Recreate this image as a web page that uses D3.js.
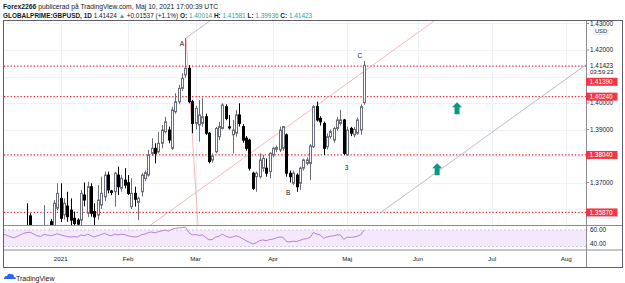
<!DOCTYPE html>
<html><head><meta charset="utf-8">
<script src="https://cdn.jsdelivr.net/npm/d3@7/dist/d3.min.js"></script>
<style>body{margin:0;background:#fff}svg{display:block;font-family:"Liberation Sans",Arial,sans-serif}</style>
</head><body><svg id="c" width="625" height="283"></svg>
<script>
// ---- data (bar index 0 = 2021-01-04, daily weekday bars) ----
const firstIndex = -17;
const opens  = [1.3280,1.3300,1.3350,1.3330,1.3380,1.3440,1.3500,1.3535,1.3574,1.3480,1.3500,1.3480,1.3510,1.3530,1.3552,1.3530,1.3603,
 1.3640,1.3578,1.3611,1.3596,1.3565,1.3558,1.3558,1.3653,1.3584,1.3684,1.3590,1.3577,1.3615,1.3646,1.3728,1.3668,1.3665,1.3728,1.3678,1.3709,
 1.3699,1.3609,1.3659,1.3625,1.3665,1.3715,1.3728,1.3810,1.3829,1.3816,1.3848,1.3892,1.3898,1.3829,1.3967,1.4005,1.4055,1.4106,1.4131,1.4005,
 1.3923,1.3917,1.3923,1.3948,1.3886,1.3785,1.3816,1.3873,1.3904,1.3986,1.3910,1.3880,1.3886,1.3955,1.3911,1.3867,1.3860,1.3735,1.3722,1.3722,
 1.3754,1.3754,1.3741,1.3804,1.3825,1.3823,1.3829,1.3880,1.3735,1.3697,1.3728,1.3697,1.3754,1.3772,1.3772,1.3835,1.3986,1.3942,1.3923,1.3835,
 1.3873,1.3860,1.3904,1.3923,1.3936,1.3804,1.3904,1.3880,1.3886,1.3898,1.40014];
const highs  = [1.3330,1.3380,1.3420,1.3400,1.3460,1.3510,1.3535,1.3622,1.3584,1.3530,1.3535,1.3520,1.3615,1.3540,1.3562,1.3634,1.3697,
 1.3697,1.3640,1.3665,1.3640,1.3590,1.3565,1.3672,1.3700,1.3703,1.3697,1.3622,1.3690,1.3722,1.3741,1.3741,1.3672,1.3740,1.3760,1.3728,1.3754,
 1.3728,1.3716,1.3684,1.3647,1.3735,1.3745,1.3823,1.3867,1.3848,1.3892,1.3917,1.3948,1.3911,1.3986,1.4037,1.4068,1.4112,1.4245,1.4143,1.4012,
 1.3990,1.4011,1.4018,1.3960,1.3890,1.3810,1.3910,1.3929,1.3999,1.3995,1.3955,1.3936,1.3974,1.3999,1.3920,1.3875,1.3865,1.3741,1.3741,1.3810,
 1.3804,1.3791,1.3815,1.3835,1.3840,1.3911,1.3913,1.3885,1.3745,1.3745,1.3735,1.3760,1.3790,1.3795,1.3845,1.3992,1.4005,1.3950,1.3930,1.3885,
 1.3900,1.3910,1.3948,1.3974,1.3940,1.3911,1.3910,1.3910,1.3945,1.3995,1.41581];
const lows   = [1.3230,1.3260,1.3300,1.3250,1.3340,1.3420,1.3460,1.3450,1.3440,1.3420,1.3440,1.3450,1.3480,1.3490,1.3500,1.3520,1.3595,
 1.3551,1.3560,1.3552,1.3530,1.3500,1.3450,1.3540,1.3610,1.3570,1.3571,1.3540,1.3560,1.3600,1.3630,1.3659,1.3652,1.3609,1.3653,1.3665,1.3678,
 1.3653,1.3600,1.3609,1.3558,1.3647,1.3705,1.3722,1.3800,1.3772,1.3810,1.3829,1.3885,1.3848,1.3823,1.3960,1.3995,1.4045,1.4095,1.3999,1.3886,
 1.3900,1.3854,1.3911,1.3880,1.3772,1.3775,1.3810,1.3860,1.3900,1.3935,1.3900,1.3810,1.3873,1.3911,1.3850,1.3820,1.3745,1.3672,1.3665,1.3715,
 1.3741,1.3722,1.3716,1.3795,1.3815,1.3815,1.3820,1.3722,1.3700,1.3690,1.3665,1.3672,1.3745,1.3765,1.3709,1.3830,1.3930,1.3915,1.3804,1.3825,
 1.3865,1.3850,1.3895,1.3915,1.3804,1.3800,1.3875,1.3870,1.3880,1.3880,1.39936];
const closes = [1.3300,1.3350,1.3330,1.3380,1.3440,1.3500,1.3520,1.3500,1.3480,1.3500,1.3480,1.3510,1.3530,1.3520,1.3530,1.3622,1.3659,
 1.3565,1.3622,1.3571,1.3558,1.3545,1.3543,1.3659,1.3634,1.3684,1.3584,1.3570,1.3634,1.3659,1.3728,1.3672,1.3663,1.3735,1.3684,1.3716,1.3690,
 1.3659,1.3659,1.3637,1.3640,1.3728,1.3737,1.3804,1.3829,1.3810,1.3848,1.3898,1.3929,1.3860,1.3974,1.4005,1.4055,1.4093,1.4131,1.4005,1.3923,
 1.3980,1.3955,1.3948,1.3886,1.3779,1.3800,1.3904,1.3911,1.3992,1.3942,1.3906,1.3898,1.3955,1.3923,1.3860,1.3829,1.3754,1.3678,1.3735,1.3785,
 1.3791,1.3735,1.3810,1.3829,1.3832,1.3898,1.3911,1.3735,1.3722,1.3735,1.3684,1.3754,1.3785,1.3785,1.3838,1.3986,1.3936,1.3929,1.3829,1.3873,
 1.3892,1.3904,1.3936,1.3936,1.3810,1.3898,1.3886,1.3900,1.3936,1.3986,1.41423];
const rsiValues = [55,53.5,52,50.5,52,54,56,57,57.2,55,53,52,54.5,54,53,54,55.5,
 54,53,52,51.5,52,51.5,54,53,55,53,51.5,53,54.5,56,54,53,55,54,55,54.5,
 53,52,51.5,52,54.5,55,57,57.5,56.5,58,59,60,58.5,61,62,62.5,63,63.5,57,54,
 54.5,53.5,54,51,48,48.5,51.5,52.5,55,52.5,51,51.5,53,51.5,49.5,47,45,43,44.5,47,
 48,47,48.5,49,50.5,51.5,51,46,45.5,46.5,46,47.5,49,49.5,51,57,55,54,50,51.5,
 52.5,53,54,54,48.5,51.5,51,51.5,52.5,54,60];
const monthLabels = ["2021","Feb","Mar","Apr","Maj","Jun","Jul","Aug"];
const monthIndex  = [0,20,40,63,85,106,128,150];
const gridPrices  = [1.43,1.42,1.41,1.40,1.39,1.38,1.37,1.36];
const shownPriceLabels = ["1.43000","1.42000","1.40000","1.39000","1.37000"];
const levels      = [1.41390,1.40240,1.38040,1.35870];
const levelLabels = ["1.41390","1.40240","1.38040","1.35870"];
const lastPrice = 1.41423, lastLabel = "1.41423", countdown = "03:59:23";
const waveLabels = ["A","B","C","3"];
const waveIdx    = [36.0,67.5,88.8,84.8];
const wavePrice  = [1.42226,1.36604,1.41774,1.37547];
const arrowIdx   = [117.6,111.7];
const arrowPrice = [1.39800,1.37498];
// pitchfork: median through two points, tines parallel
const medianA = [26.5,1.35377], medianB = [109,1.42932];
const upperStart = [37.2,1.42453];
const lowerStart = [94.75,1.35849];
const baseLine = [[37.2,1.42453],[40.75,1.35396]];
const rsiBand = [40,60];

// ---- layout ----
const svg = d3.select("#c");
const P = {l:4, r:586, t:21, b:225.5, rsiB:250, axisB:267.5, R:622.5};
const x = d3.scaleLinear().domain([0,90]).range([60.7,364]);
const y = d3.scaleLinear().domain([1.37,1.42]).range([182.5,50]);
const yr = d3.scaleLinear().domain([40,60]).range([246.5,230]);
const idxs = d3.range(opens.length).map(i=>i+firstIndex);

const defs = svg.append("defs");
defs.append("clipPath").attr("id","cm").append("rect").attr("x",P.l).attr("y",P.t).attr("width",P.r-P.l).attr("height",P.b-P.t);
defs.append("clipPath").attr("id","cr").append("rect").attr("x",P.l).attr("y",P.b+0.5).attr("width",P.r-P.l).attr("height",P.rsiB-P.b-0.5);

// header
const hdr = svg.append("g").attr("font-size",7.2).attr("fill","#131722");
const h1 = hdr.append("text").attr("x",3).attr("y",8.5);
h1.append("tspan").attr("font-weight","bold").text("Forex2266");
h1.append("tspan").text(" publicerad på TradingView.com, Maj 10, 2021 17:00:39 UTC");
const h2 = hdr.append("text").attr("x",3).attr("y",17.8);
const teal = "#26a69a";
h2.append("tspan").attr("font-weight","bold").text("GLOBALPRIME:GBPUSD, 1D ");
h2.append("tspan").text(" 1.41424 ");
h2.append("tspan").attr("fill",teal).text("▲");
h2.append("tspan").text(" +0.01537 (+1.1%) ");
[["O:","1.40014"],["H:","1.41581"],["L:","1.39936"],["C:","1.41423"]].forEach(([k,v])=>{
  h2.append("tspan").attr("font-weight","bold").text(" "+k);
  h2.append("tspan").attr("fill",teal).text(" "+v);
});
function fit(t,w){const L=t.node().getComputedTextLength();t.attr("font-size",7.2*w/L);}
fit(h1,215); fit(h2,309);

// grid
const g = svg.append("g");
g.selectAll("line.hg").data(gridPrices).join("line")
 .attr("x1",P.l).attr("x2",P.r).attr("y1",d=>Math.round(y(d))+0.5).attr("y2",d=>Math.round(y(d))+0.5)
 .attr("stroke","#eef1f5").attr("stroke-width",1);
g.selectAll("line.vg").data(monthIndex).join("line")
 .attr("x1",d=>Math.round(x(d))+0.5).attr("x2",d=>Math.round(x(d))+0.5).attr("y1",P.t).attr("y2",P.rsiB)
 .attr("stroke","#eef1f5");

// RSI pane
const rp = svg.append("g");
rp.append("rect").attr("x",P.l).attr("width",P.r-P.l).attr("y",yr(rsiBand[1])).attr("height",yr(rsiBand[0])-yr(rsiBand[1]))
 .attr("fill","#f3e9fb");
rp.selectAll("line.rb").data(rsiBand).join("line").attr("x1",P.l).attr("x2",P.r)
 .attr("y1",d=>yr(d)).attr("y2",d=>yr(d)).attr("stroke","#c9b8de").attr("stroke-dasharray","2,2").attr("stroke-width",0.8);
rp.append("path").attr("clip-path","url(#cr)")
 .attr("d",d3.line().x((d,i)=>x(idxs[i])).y(d=>yr(d))(rsiValues))
 .attr("fill","none").attr("stroke","#b67fd6").attr("stroke-width",1);

// levels
const lv = svg.append("g").attr("clip-path","url(#cm)");
lv.selectAll("line").data(levels).join("line")
 .attr("x1",P.l).attr("x2",P.r).attr("y1",d=>y(d)).attr("y2",d=>y(d))
 .attr("stroke","#e8242f").attr("stroke-width",1.3).attr("stroke-dasharray","1.3,2");

// pitchfork lines
const slope = (medianB[1]-medianA[1])/(medianB[0]-medianA[0]);
const pf = svg.append("g").attr("clip-path","url(#cm)");
function ray(p0,x1){return [[x(p0[0]),y(p0[1])],[x(x1),y(p0[1]+slope*(x1-p0[0]))]];}
pf.append("path").attr("d",d3.line()(ray(medianA,200))).attr("stroke","#f4a3a8").attr("stroke-width",0.8).attr("fill","none");
pf.append("path").attr("d",d3.line()(ray(upperStart,200))).attr("stroke","#a9acb5").attr("stroke-width",0.8).attr("fill","none");
pf.append("path").attr("d",d3.line()(ray(lowerStart,200))).attr("stroke","#a9acb5").attr("stroke-width",0.8).attr("fill","none");
pf.append("path").attr("d",d3.line()(baseLine.map(p=>[x(p[0]),y(p[1])]))).attr("stroke","#f4a3a8").attr("stroke-width",0.8).attr("fill","none");

// candles
const cg = svg.append("g").attr("clip-path","url(#cm)");
idxs.forEach((bi,i)=>{
  const px = Math.round(x(bi));
  const up = closes[i]>=opens[i];
  cg.append("line").attr("x1",px+0.5).attr("x2",px+0.5).attr("y1",y(highs[i])).attr("y2",y(lows[i]))
    .attr("stroke",up?"#6b6e78":"#000").attr("stroke-width",1);
  const top = y(Math.max(opens[i],closes[i])), bot = y(Math.min(opens[i],closes[i]));
  cg.append("rect").attr("x",px-0.5).attr("width",2).attr("y",top).attr("height",Math.max(bot-top,0.6))
    .attr("fill",up?"#fff":"#000").attr("stroke",up?"#6b6e78":"#000").attr("stroke-width",1);
});

// wave labels
svg.append("g").attr("font-size",6.5).attr("fill","#131722").attr("text-anchor","middle")
 .selectAll("text").data(waveLabels).join("text")
 .attr("x",(d,i)=>x(waveIdx[i])).attr("y",(d,i)=>y(wavePrice[i])+2.3).text(d=>d);

// arrows
const arrowPath = "M0,-6 L5,-1 L2.5,-1 L2.5,6 L-2.5,6 L-2.5,-1 L-5,-1 Z";
svg.append("g").selectAll("path").data(arrowIdx).join("path")
 .attr("transform",(d,i)=>`translate(${x(d)},${y(arrowPrice[i])})`)
 .attr("d",arrowPath).attr("fill","#089981");

// separators & frame
const fr = svg.append("g").attr("stroke","#8a8d96").attr("fill","none").attr("stroke-width",1);
fr.append("line").attr("x1",3.5).attr("x2",P.R).attr("y1",P.b).attr("y2",P.b);
fr.append("line").attr("x1",3.5).attr("x2",P.R).attr("y1",P.rsiB).attr("y2",P.rsiB);
fr.append("line").attr("x1",P.r+0.5).attr("x2",P.r+0.5).attr("y1",20.5).attr("y2",P.axisB);
fr.append("rect").attr("x",3.5).attr("y",20.5).attr("width",P.R-3.5).attr("height",P.axisB-20.5).attr("stroke","#5d606b");

// price axis
const pa = svg.append("g").attr("font-size",6.4).attr("fill","#131722");
const shown = gridPrices.filter(p=>shownPriceLabels.includes(p.toFixed(5)));
pa.selectAll("line").data(shown).join("line").attr("x1",P.r+0.5).attr("x2",P.r+3).attr("y1",d=>y(d)).attr("y2",d=>y(d)).attr("stroke","#8a8d96");
pa.selectAll("text.pt").data(shown).join("text").attr("x",P.r+4).attr("y",d=>y(d)+2.3).text(d=>d.toFixed(5));
// USD box
pa.append("rect").attr("x",594).attr("y",27).attr("width",14).attr("height",7.5).attr("rx",1.5).attr("fill","#fff").attr("stroke","#d1d4dc").attr("stroke-width",0.6);
pa.append("text").attr("x",601).attr("y",33).attr("text-anchor","middle").attr("font-size",5.8).text("USD");
// last price
const ly = y(lastPrice);
pa.append("rect").attr("x",P.r+1).attr("y",ly-3.6).attr("width",35).attr("height",14).attr("fill","#fff");
pa.append("text").attr("x",P.r+4).attr("y",ly+2.3).text(lastLabel);
pa.append("text").attr("x",P.r+4).attr("y",ly+8.8).attr("font-size",6).text(countdown);
// level labels with overlap avoidance
let prevBottom = ly+10.5;
levels.forEach((lvl,i)=>{
  let cy = Math.max(y(lvl), prevBottom+6);
  prevBottom = cy+4;
  pa.append("rect").attr("x",P.r).attr("y",cy-4).attr("width",31.5).attr("height",8).attr("fill","#f23645");
  pa.append("text").attr("x",P.r+3.5).attr("y",cy+2.3).attr("fill","#fff").text(levelLabels[i]);
});
// RSI axis labels
pa.selectAll("text.rl").data(rsiBand).join("text").attr("x",P.r+4).attr("y",d=>yr(d)+2.3-(d===40?3:0)+(d===60?-0.5:0)).text(d=>d.toFixed(2));

// time axis
svg.append("g").attr("font-size",6.2).attr("fill","#131722").attr("text-anchor","middle")
 .selectAll("text").data(monthLabels).join("text").attr("x",(d,i)=>x(monthIndex[i])).attr("y",261).text(d=>d);

// logo
const lg = svg.append("g");
lg.append("path").attr("d","M4,279 q0,-3 3,-3 q1,-3 4,-2 q3,0 3,3 q2,0 2,2 z").attr("fill","#2962ff");
lg.append("text").attr("x",16).attr("y",280.5).attr("font-size",7).attr("fill","#131722").text("TradingView");
</script></body></html>
